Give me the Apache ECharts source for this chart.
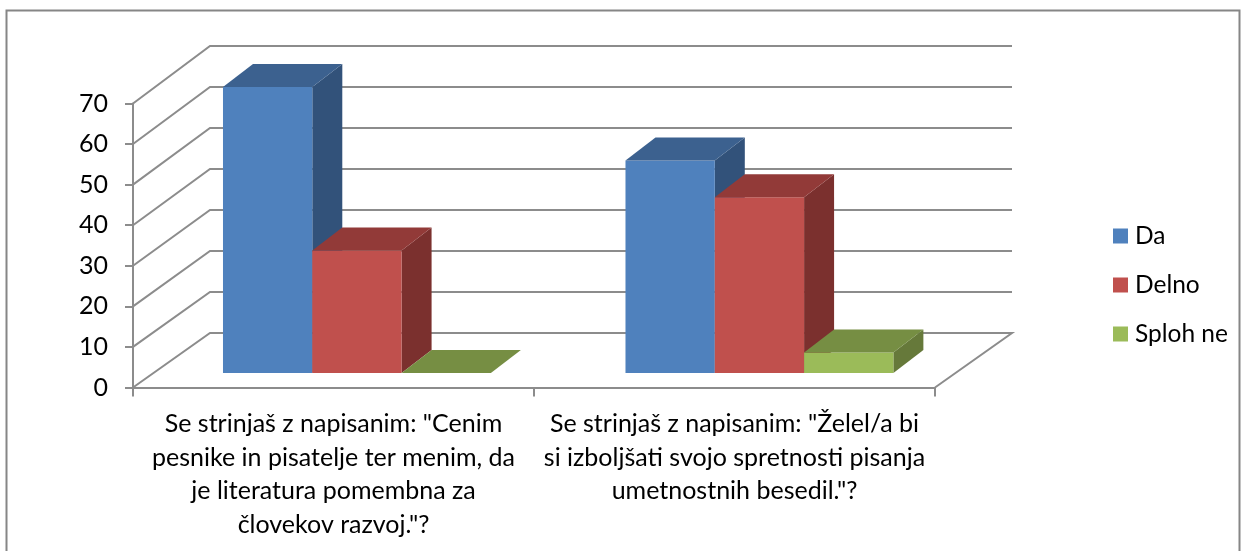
<!DOCTYPE html>
<html>
<head>
<meta charset="utf-8">
<style>html,body{margin:0;padding:0;background:#fff}#c{width:1245px;height:551px}</style>
<script src="https://cdn.jsdelivr.net/npm/echarts@6/dist/echarts.min.js"></script>
</head>
<body>
<div id="c"></div>
<script>
var categories = [
  'Se strinjaš z napisanim: "Cenim\npesnike in pisatelje ter menim, da\nje literatura pomembna za\nčlovekov razvoj."?',
  'Se strinjaš z napisanim: "Želel/a bi\nsi izboljšati svojo spretnosti pisanja\numetnostnih besedil."?'
];
var seriesNames = ['Da', 'Delno', 'Sploh ne'];
var da = [70, 52];
var delno = [30, 43];
var splohNe = [0, 5];
var yTicks = [0, 10, 20, 30, 40, 50, 60, 70];

var GRID_COLOR = '#8c8c8c';
var FONT = 'Lato';
var WALL_DX = 77, WALL_DY = 54.5, WALL_STRETCH = 1.0106;
var BAR_W_FRAC = 0.2227, BAR_START_FRAC = -0.2756, BAR_FRONT_DY = 14.5, BAR_STRETCH = 1.007, BAR_DX = 30, BAR_DY = 23, BAR_GROUP_NUDGE = 1.5;

function wallItem(params, api) {
  var cs = params.coordSys;
  var v = api.value(0);
  var base = api.coord([0, 0])[1];
  var y = base - (base - api.coord([0, v])[1]) * WALL_STRETCH;
  var y0 = api.coord([0, v])[1];
  var pts = [[cs.x, y0], [cs.x + WALL_DX, y - WALL_DY], [cs.x + cs.width + WALL_DX, y - WALL_DY]];
  if (v === 0) pts.push([cs.x + cs.width, y0]);
  return {
    type: 'polyline',
    shape: { points: pts },
    style: { stroke: GRID_COLOR, lineWidth: 2, fill: null }
  };
}

function barRenderer(seriesIdx, front, top, side) {
  return function (params, api) {
    var cat = api.value(0);
    var val = api.value(1);
    var band = api.size([1, 0])[0];
    var center = api.coord([cat, 0]);
    var base = center[1];
    var yBottom = base - BAR_FRONT_DY;
    var yTop = yBottom - (base - api.coord([cat, val])[1]) * BAR_STRETCH;
    var x0 = center[0] + band * BAR_START_FRAC + seriesIdx * band * BAR_W_FRAC + cat * BAR_GROUP_NUDGE;
    var x1 = x0 + band * BAR_W_FRAC;
    var kids = [];
    if (val > 0) {
      kids.push({ type: 'polygon', shape: { points: [[x1, yBottom], [x1 + BAR_DX, yBottom - BAR_DY], [x1 + BAR_DX, yTop - BAR_DY], [x1, yTop]] }, style: { fill: side } });
      kids.push({ type: 'rect', shape: { x: x0, y: yTop, width: x1 - x0, height: yBottom - yTop }, style: { fill: front } });
    }
    kids.push({ type: 'polygon', shape: { points: [[x0, yTop], [x0 + BAR_DX, yTop - BAR_DY], [x1 + BAR_DX, yTop - BAR_DY], [x1, yTop]] }, style: { fill: top } });
    return { type: 'group', children: kids };
  };
}

function rows(values) {
  return values.map(function (v, i) { return [i, v]; });
}

var chart = echarts.init(document.getElementById('c'), null, { renderer: 'canvas' });
chart.setOption({
  animation: false,
  backgroundColor: '#fff',
  graphic: [{
    type: 'polyline',
    silent: true,
    shape: { points: [[6.5, 551], [6.5, 10.5], [1239.5, 10.5], [1239.5, 551]] },
    style: { stroke: '#868686', lineWidth: 2, fill: null }
  }],
  grid: { left: 133, top: 103.5, width: 802, height: 284 },
  legend: {
    data: seriesNames,
    orient: 'vertical',
    left: 1113,
    top: 223.5,
    padding: 0,
    itemWidth: 15,
    itemHeight: 15,
    itemGap: 24,
    icon: 'rect',
    selectedMode: false,
    textStyle: { fontFamily: FONT, fontSize: 24.5, color: '#000', padding: [0, 0, 0, 2] }
  },
  xAxis: {
    type: 'category',
    data: categories,
    boundaryGap: true,
    axisLine: { lineStyle: { color: GRID_COLOR, width: 2 } },
    axisTick: { show: true, length: 9, lineStyle: { color: GRID_COLOR, width: 2 } },
    axisLabel: { interval: 0, margin: 20, fontFamily: FONT, fontSize: 25, lineHeight: 33.5, color: '#000', align: 'center' }
  },
  yAxis: {
    type: 'value',
    min: 0,
    max: 70,
    interval: 10,
    splitLine: { show: false },
    axisLine: { show: true, lineStyle: { color: GRID_COLOR, width: 2 } },
    axisTick: { show: true, length: 8, lineStyle: { color: GRID_COLOR, width: 2 } },
    axisLabel: { margin: 25, padding: [3, 0, 0, 0], fontFamily: FONT, fontSize: 25, color: '#000' }
  },
  series: [
    { type: 'custom', name: 'walls', silent: true, clip: false, z: 1, data: yTicks.map(function (t) { return [t]; }), encode: { y: 0 }, renderItem: wallItem },
    { type: 'custom', name: seriesNames[0], clip: false, z: 2, itemStyle: { color: '#4f81bd' }, data: rows(da), encode: { x: 0, y: 1 }, renderItem: barRenderer(0, '#4f81bd', '#3c618f', '#32527a') },
    { type: 'custom', name: seriesNames[1], clip: false, z: 3, itemStyle: { color: '#c0504d' }, data: rows(delno), encode: { x: 0, y: 1 }, renderItem: barRenderer(1, '#c0504d', '#923a38', '#7b302e') },
    { type: 'custom', name: seriesNames[2], clip: false, z: 4, itemStyle: { color: '#9bbb59' }, data: rows(splohNe), encode: { x: 0, y: 1 }, renderItem: barRenderer(2, '#9bbb59', '#768e43', '#66793a') }
  ]
});
</script>
</body>
</html>
